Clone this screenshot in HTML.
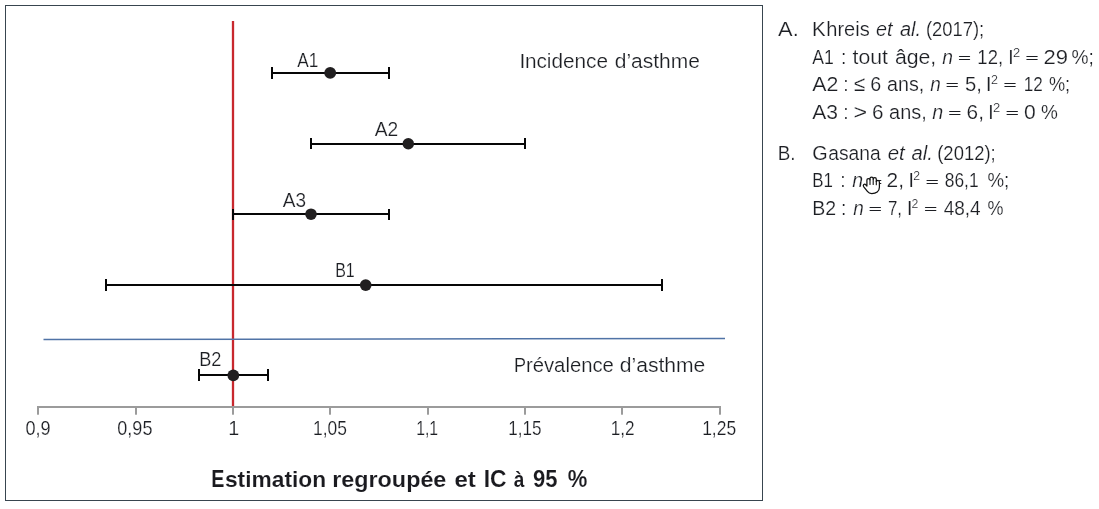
<!DOCTYPE html>
<html lang="fr"><head><meta charset="utf-8"><title>Estimation regroupée et IC à 95 %</title>
<style>html,body{margin:0;padding:0;background:#fff}svg{display:block}</style></head>
<body>
<svg width="1099" height="509" viewBox="0 0 1099 509">
<rect width="1099" height="509" fill="#fff"/>
<rect x="5.5" y="5.5" width="757" height="495" fill="none" stroke="#38454f" stroke-width="1"/>
<rect x="231.85" y="21" width="2.3" height="386" fill="#c8282e"/>
<line x1="43.5" y1="339.45" x2="725" y2="338.45" stroke="#5073a6" stroke-width="1.5"/>
<g fill="#9b9b9b"><rect x="37" y="406" width="684" height="2"/><rect x="37" y="407" width="2" height="7.7"/><rect x="135" y="407" width="2" height="7.7"/><rect x="232" y="407" width="2" height="7.7"/><rect x="329" y="407" width="2" height="7.7"/><rect x="427" y="407" width="2" height="7.7"/><rect x="524" y="407" width="2" height="7.7"/><rect x="621" y="407" width="2" height="7.7"/><rect x="719" y="407" width="2" height="7.7"/></g>
<g fill="#060606"><rect x="272" y="72" width="117" height="2"/><rect x="271" y="67" width="2" height="12"/><rect x="388" y="67" width="2" height="12"/><circle cx="330.2" cy="72.9" r="5.95" fill="#211f20"/><rect x="311" y="143" width="214" height="2"/><rect x="310" y="138" width="2" height="11"/><rect x="524" y="138" width="2" height="11"/><circle cx="408.3" cy="143.8" r="5.75" fill="#211f20"/><rect x="233" y="213" width="156" height="2"/><rect x="232" y="209" width="2" height="11"/><rect x="388" y="209" width="2" height="11"/><circle cx="311" cy="214.2" r="5.8" fill="#211f20"/><rect x="106" y="284" width="556" height="2"/><rect x="105" y="279" width="2" height="12"/><rect x="661" y="279" width="2" height="12"/><circle cx="365.7" cy="285.1" r="5.85" fill="#211f20"/><rect x="199" y="374" width="69" height="2"/><rect x="198" y="369" width="2" height="12"/><rect x="267" y="369" width="2" height="12"/><circle cx="233.3" cy="375.3" r="5.9" fill="#211f20"/></g>
<g font-family="'Liberation Sans', sans-serif" fill="#1c1e23" stroke="#fff" stroke-width="0.2">
<text x="297.19" y="66.8" font-size="20.0" textLength="21.07" lengthAdjust="spacingAndGlyphs">A1</text>
<text x="374.67" y="136.0" font-size="20.0" textLength="23.52" lengthAdjust="spacingAndGlyphs">A2</text>
<text x="282.87" y="206.8" font-size="20.0" textLength="23.24" lengthAdjust="spacingAndGlyphs">A3</text>
<text x="335.20" y="276.8" font-size="20.0" textLength="19.58" lengthAdjust="spacingAndGlyphs">B1</text>
<text x="199.23" y="366.0" font-size="20.0" textLength="22.22" lengthAdjust="spacingAndGlyphs">B2</text>
<text font-size="19.4"><tspan x="519.44" y="67.8" font-size="21.1">I</tspan><tspan x="524.92" y="67.8" textLength="83.13" lengthAdjust="spacingAndGlyphs">ncidence</tspan> <tspan x="614.75" y="67.8" textLength="85.12" lengthAdjust="spacingAndGlyphs">d’asthme</tspan></text>
<text font-size="19.4"><tspan x="513.92" y="371.7" textLength="12.05" lengthAdjust="spacingAndGlyphs" font-size="21.1">P</tspan><tspan x="525.90" y="371.7" textLength="88.01" lengthAdjust="spacingAndGlyphs">révalence</tspan> <tspan x="619.78" y="371.7" textLength="85.59" lengthAdjust="spacingAndGlyphs">d’asthme</tspan></text>
<text x="25.49" y="435.0" font-size="19.8" textLength="25.17" lengthAdjust="spacingAndGlyphs">0,9</text>
<text x="117.30" y="435.0" font-size="19.8" textLength="35.14" lengthAdjust="spacingAndGlyphs">0,95</text>
<text x="228.28" y="435.0" font-size="19.8">1</text>
<text x="313.05" y="435.0" font-size="19.8" textLength="33.94" lengthAdjust="spacingAndGlyphs">1,05</text>
<text x="416.18" y="435.0" font-size="19.8" textLength="22.00" lengthAdjust="spacingAndGlyphs">1,1</text>
<text x="508.22" y="435.0" font-size="19.8" textLength="33.24" lengthAdjust="spacingAndGlyphs">1,15</text>
<text x="610.76" y="435.0" font-size="19.8" textLength="23.90" lengthAdjust="spacingAndGlyphs">1,2</text>
<text x="702.16" y="435.0" font-size="19.8" textLength="34.00" lengthAdjust="spacingAndGlyphs">1,25</text>
<text font-size="21.4" font-weight="bold" fill="#1a1a1f" stroke-width="0.1"><tspan x="211.23" y="486.6" textLength="13.15" lengthAdjust="spacingAndGlyphs" font-size="23.5">E</tspan><tspan x="224.94" y="486.6" textLength="101.15" lengthAdjust="spacingAndGlyphs">stimation</tspan> <tspan x="332.21" y="486.6" textLength="114.16" lengthAdjust="spacingAndGlyphs">regroupée</tspan> <tspan x="454.53" y="486.6" textLength="21.35" lengthAdjust="spacingAndGlyphs">et</tspan> <tspan x="483.70" y="486.6" textLength="22.81" lengthAdjust="spacingAndGlyphs" font-size="23.5">IC</tspan> <tspan x="513.63" y="486.6" textLength="10.62" lengthAdjust="spacingAndGlyphs">à</tspan> <tspan x="532.98" y="486.6" textLength="24.46" lengthAdjust="spacingAndGlyphs" font-size="23.5">95</tspan> <tspan x="567.80" y="486.6" textLength="19.57" lengthAdjust="spacingAndGlyphs" font-size="23.5">%</tspan></text>
<text font-size="19.4"><tspan x="778.11" y="36.0" textLength="20.64" lengthAdjust="spacingAndGlyphs" font-size="21.1">A.</tspan> <tspan x="811.92" y="36.0" textLength="13.67" lengthAdjust="spacingAndGlyphs" font-size="21.1">K</tspan><tspan x="826.25" y="36.0" textLength="43.48" lengthAdjust="spacingAndGlyphs">hreis</tspan> <tspan x="875.99" y="36.0" textLength="16.45" lengthAdjust="spacingAndGlyphs" font-style="italic">et</tspan> <tspan x="899.98" y="36.0" textLength="21.11" lengthAdjust="spacingAndGlyphs" font-style="italic">al.</tspan> <tspan x="925.92" y="36.0" textLength="58.28" lengthAdjust="spacingAndGlyphs" font-size="21.1">(2017);</tspan></text>
<text font-size="19.4"><tspan x="812.32" y="63.8" textLength="21.58" lengthAdjust="spacingAndGlyphs" font-size="21.1">A1</tspan> <tspan x="841.06" y="63.8">:</tspan> <tspan x="852.58" y="63.8" textLength="35.38" lengthAdjust="spacingAndGlyphs">tout</tspan> <tspan x="894.90" y="63.8" textLength="41.39" lengthAdjust="spacingAndGlyphs">âge,</tspan> <tspan x="942.17" y="63.8" textLength="10.72" lengthAdjust="spacingAndGlyphs" font-style="italic">n</tspan> <tspan x="958.14" y="62.1" textLength="13.04" lengthAdjust="spacingAndGlyphs" font-size="13.2" stroke="#1c1e23" stroke-width="0.15">=</tspan> <tspan x="977.36" y="63.8" textLength="25.67" lengthAdjust="spacingAndGlyphs" font-size="21.1">12,</tspan> <tspan x="1007.99" y="63.8" font-size="21.1">I</tspan><tspan x="1012.97" y="56.8" textLength="7.18" lengthAdjust="spacingAndGlyphs" font-size="12.4">2</tspan> <tspan x="1025.61" y="62.1" textLength="13.06" lengthAdjust="spacingAndGlyphs" font-size="13.2" stroke="#1c1e23" stroke-width="0.15">=</tspan> <tspan x="1043.58" y="63.8" textLength="24.54" lengthAdjust="spacingAndGlyphs" font-size="21.1">29</tspan> <tspan x="1071.49" y="63.8" textLength="22.33" lengthAdjust="spacingAndGlyphs" font-size="21.1">%;</tspan></text>
<text font-size="19.4"><tspan x="812.35" y="90.9" textLength="26.17" lengthAdjust="spacingAndGlyphs" font-size="21.1">A2</tspan> <tspan x="843.34" y="90.9">:</tspan> <tspan x="853.94" y="90.9" textLength="11.19" lengthAdjust="spacingAndGlyphs" font-size="21.1">≤</tspan> <tspan x="870.26" y="90.9" textLength="10.96" lengthAdjust="spacingAndGlyphs" font-size="21.1">6</tspan> <tspan x="887.10" y="90.9" textLength="37.24" lengthAdjust="spacingAndGlyphs">ans,</tspan> <tspan x="930.18" y="90.9" textLength="10.53" lengthAdjust="spacingAndGlyphs" font-style="italic">n</tspan> <tspan x="945.75" y="89.2" textLength="13.07" lengthAdjust="spacingAndGlyphs" font-size="13.2" stroke="#1c1e23" stroke-width="0.15">=</tspan> <tspan x="965.06" y="90.9" textLength="16.87" lengthAdjust="spacingAndGlyphs" font-size="21.1">5,</tspan> <tspan x="985.79" y="90.9" font-size="21.1">I</tspan><tspan x="990.98" y="83.9" textLength="6.95" lengthAdjust="spacingAndGlyphs" font-size="12.4">2</tspan> <tspan x="1003.61" y="89.2" textLength="13.06" lengthAdjust="spacingAndGlyphs" font-size="13.2" stroke="#1c1e23" stroke-width="0.15">=</tspan> <tspan x="1023.74" y="90.9" textLength="19.05" lengthAdjust="spacingAndGlyphs" font-size="21.1">12</tspan> <tspan x="1048.98" y="90.9" textLength="21.20" lengthAdjust="spacingAndGlyphs" font-size="21.1">%;</tspan></text>
<text font-size="19.4"><tspan x="812.28" y="118.8" textLength="25.79" lengthAdjust="spacingAndGlyphs" font-size="21.1">A3</tspan> <tspan x="843.34" y="118.8">:</tspan> <tspan x="853.51" y="118.8" textLength="13.63" lengthAdjust="spacingAndGlyphs" font-size="21.1">&gt;</tspan> <tspan x="872.02" y="118.8" textLength="11.49" lengthAdjust="spacingAndGlyphs" font-size="21.1">6</tspan> <tspan x="889.07" y="118.8" textLength="37.66" lengthAdjust="spacingAndGlyphs">ans,</tspan> <tspan x="932.34" y="118.8" textLength="10.99" lengthAdjust="spacingAndGlyphs" font-style="italic">n</tspan> <tspan x="948.24" y="117.1" textLength="13.05" lengthAdjust="spacingAndGlyphs" font-size="13.2" stroke="#1c1e23" stroke-width="0.15">=</tspan> <tspan x="966.60" y="118.8" textLength="17.35" lengthAdjust="spacingAndGlyphs" font-size="21.1">6,</tspan> <tspan x="987.90" y="118.8" font-size="21.1">I</tspan><tspan x="993.08" y="111.8" textLength="7.22" lengthAdjust="spacingAndGlyphs" font-size="12.4">2</tspan> <tspan x="1005.72" y="117.1" textLength="13.17" lengthAdjust="spacingAndGlyphs" font-size="13.2" stroke="#1c1e23" stroke-width="0.15">=</tspan> <tspan x="1024.00" y="118.8" textLength="11.76" lengthAdjust="spacingAndGlyphs" font-size="21.1">0</tspan> <tspan x="1040.94" y="118.8" textLength="16.88" lengthAdjust="spacingAndGlyphs" font-size="21.1">%</tspan></text>
<text font-size="19.4"><tspan x="777.80" y="159.6" textLength="17.82" lengthAdjust="spacingAndGlyphs" font-size="21.1">B.</tspan> <tspan x="812.25" y="159.6" textLength="15.42" lengthAdjust="spacingAndGlyphs" font-size="21.1">G</tspan><tspan x="828.21" y="159.6" textLength="52.44" lengthAdjust="spacingAndGlyphs">asana</tspan> <tspan x="887.73" y="159.6" textLength="17.05" lengthAdjust="spacingAndGlyphs" font-style="italic">et</tspan> <tspan x="911.47" y="159.6" textLength="21.42" lengthAdjust="spacingAndGlyphs" font-style="italic">al.</tspan> <tspan x="937.24" y="159.6" textLength="58.42" lengthAdjust="spacingAndGlyphs" font-size="21.1">(2012);</tspan></text>
<text font-size="19.4"><tspan x="812.27" y="187.4" textLength="20.65" lengthAdjust="spacingAndGlyphs" font-size="21.1">B1</tspan> <tspan x="840.34" y="187.4">:</tspan> <tspan x="852.34" y="187.4" textLength="10.87" lengthAdjust="spacingAndGlyphs" font-style="italic">n</tspan> <tspan x="869.01" y="185.7" textLength="13.20" lengthAdjust="spacingAndGlyphs" font-size="13.2" stroke="#1c1e23" stroke-width="0.15">=</tspan> <tspan x="886.59" y="187.4" textLength="17.42" lengthAdjust="spacingAndGlyphs" font-size="21.1">2,</tspan> <tspan x="908.30" y="187.4" font-size="21.1">I</tspan><tspan x="913.31" y="180.4" textLength="6.78" lengthAdjust="spacingAndGlyphs" font-size="12.4">2</tspan> <tspan x="925.75" y="185.7" textLength="13.07" lengthAdjust="spacingAndGlyphs" font-size="13.2" stroke="#1c1e23" stroke-width="0.15">=</tspan> <tspan x="944.71" y="187.4" textLength="33.85" lengthAdjust="spacingAndGlyphs" font-size="21.1">86,1</tspan> <tspan x="987.51" y="187.4" textLength="21.79" lengthAdjust="spacingAndGlyphs" font-size="21.1">%;</tspan></text>
<text font-size="19.4"><tspan x="812.31" y="214.6" textLength="23.93" lengthAdjust="spacingAndGlyphs" font-size="21.1">B2</tspan> <tspan x="840.91" y="214.6">:</tspan> <tspan x="853.18" y="214.6" textLength="10.53" lengthAdjust="spacingAndGlyphs" font-style="italic">n</tspan> <tspan x="868.73" y="212.9" textLength="13.20" lengthAdjust="spacingAndGlyphs" font-size="13.2" stroke="#1c1e23" stroke-width="0.15">=</tspan> <tspan x="887.91" y="214.6" textLength="14.08" lengthAdjust="spacingAndGlyphs" font-size="21.1">7,</tspan> <tspan x="906.85" y="214.6" font-size="21.1">I</tspan><tspan x="911.40" y="207.6" textLength="6.83" lengthAdjust="spacingAndGlyphs" font-size="12.4">2</tspan> <tspan x="924.01" y="212.9" textLength="13.20" lengthAdjust="spacingAndGlyphs" font-size="13.2" stroke="#1c1e23" stroke-width="0.15">=</tspan> <tspan x="943.63" y="214.6" textLength="37.05" lengthAdjust="spacingAndGlyphs" font-size="21.1">48,4</tspan> <tspan x="987.56" y="214.6" textLength="15.98" lengthAdjust="spacingAndGlyphs" font-size="21.1">%</tspan></text>
</g>
<g transform="translate(863,176.8)" stroke="#111" stroke-linejoin="round" stroke-linecap="round"><path d="M3.9 9.2 L3.9 3.2 Q3.9 1.7 5.4 1.7 Q6.9 1.7 7.0 3.0 L7.0 1.8 Q7.0 0.3 8.6 0.3 Q10.2 0.3 10.2 1.8 L10.2 2.3 Q10.3 0.9 11.8 0.9 Q13.3 0.9 13.3 2.4 L13.3 4.6 Q13.5 3.5 14.9 3.5 Q16.4 3.6 16.4 5.2 L16.4 10.5 Q16.4 13.4 14.2 15.2 Q12.2 16.8 8.8 16.8 Q6.0 16.8 4.4 14.6 L0.6 9.8 Q-0.1 8.6 0.8 7.7 Q1.8 6.9 2.8 8.0 Z" fill="#fff" stroke-width="1.25"/><path d="M7.0 3 V7.6 M10.2 2.3 V7.6 M13.3 4.6 V8" stroke-width="1.1" fill="none"/></g>
</svg>
</body></html>
